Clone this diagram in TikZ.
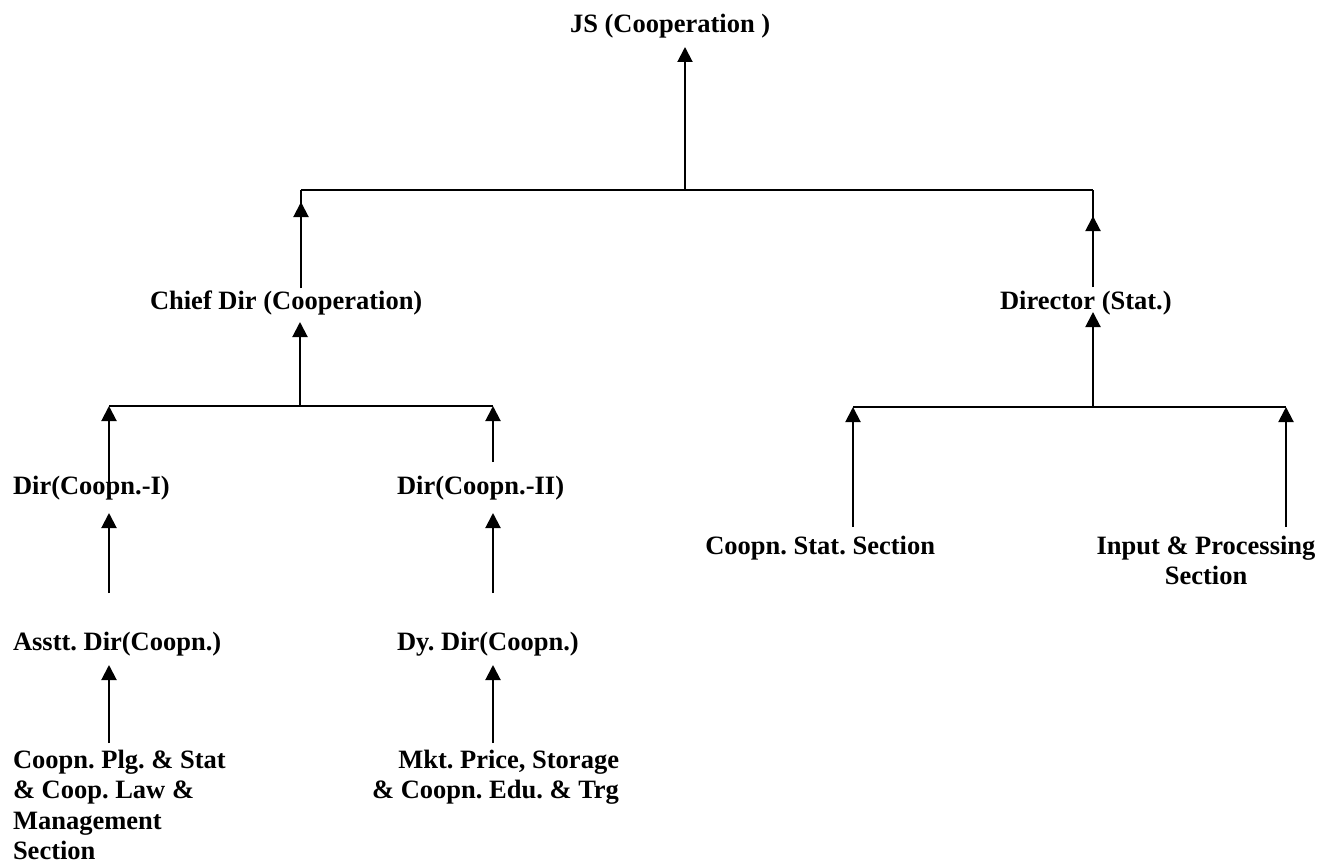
\documentclass[tikz,border=0pt]{standalone}
\usepackage{fontspec}
\setmainfont{Liberation Serif}
\usetikzlibrary{arrows.meta}
\frenchspacing
\begin{document}
\begin{tikzpicture}[x=1pt,y=-1pt,
  lbl/.style={inner sep=0pt, outer sep=0pt, anchor=base west, font=\fontsize{26.5}{30.5}\selectfont\bfseries},
  ln/.style={line width=2pt},
  arr/.style={line width=2pt, -{Triangle[length=15pt,width=15pt]}}]
\useasboundingbox (0,0) rectangle (1325,867);
% labels
\node[lbl] (js) at (570,33) {JS (Cooperation )};
\node[lbl] (cd) at (150,309) {Chief Dir (Cooperation)};
\node[lbl] (ds) at (1000,309) {Director (Stat.)};
\node[lbl] (d1) at (13,494) {Dir(Coopn.-I)};
\node[lbl] (d2) at (397,494) {Dir(Coopn.-II)};
\node[lbl] (ad) at (13,650) {Asstt. Dir(Coopn.)};
\node[lbl] (dy) at (397,650) {Dy. Dir(Coopn.)};
\node[lbl, align=left] (s1) at (13,859.5) {Coopn. Plg. \& Stat\\\& Coop. Law \&\\Management\\Section};
\node[lbl, align=right, anchor=base east] (s2) at (619,798.5) {Mkt. Price, Storage\\\& Coopn. Edu. \& Trg};
\node[lbl, anchor=base east] (cs) at (935,554) {Coopn. Stat. Section};
\node[lbl, align=center, anchor=base] (ip) at (1206,584.5) {Input \& Processing\\Section};
% junction coordinates
\coordinate (h1L) at (301,190);
\coordinate (h1M) at (685,190);
\coordinate (h1R) at (1093,190);
\coordinate (h2L) at (109,406);
\coordinate (h2M) at (300,406);
\coordinate (h2R) at (493,406);
\coordinate (h3L) at (853,407);
\coordinate (h3M) at (1093,407);
\coordinate (h3R) at (1286,407);
% connector end points
\coordinate (jsIn) at (685,47);
\coordinate (cdOut) at (301,288);
\coordinate (cdTip) at (301,202);
\coordinate (cdIn) at (300,322);
\coordinate (dsOut) at (1093,287);
\coordinate (dsTip) at (1093,216);
\coordinate (dsIn) at (1093,312);
\coordinate (d1Out) at (109,490);
\coordinate (d2Out) at (493,462);
\coordinate (d1In) at (109,513);
\coordinate (d2In) at (493,513);
\coordinate (adOut) at (109,593);
\coordinate (dyOut) at (493,593);
\coordinate (adIn) at (109,665);
\coordinate (dyIn) at (493,665);
\coordinate (s1Out) at (109,743);
\coordinate (s2Out) at (493,743);
\coordinate (csOut) at (853,527);
\coordinate (ipOut) at (1286,527);
% horizontal bars
\draw[ln] (h1L) -- (h1R);
\draw[ln] (h2L) -- (h2R);
\draw[ln] (h3L) -- (h3R);
% connectors
\draw[arr] (h1M) -- (jsIn);
\draw[ln] (cdOut) -- (h1L);
\draw[arr] (cdOut) -- (cdTip);
\draw[ln] (dsOut) -- (h1R);
\draw[arr] (dsOut) -- (dsTip);
\draw[arr] (h2M) -- (cdIn);
\draw[arr] (h3M) -- (dsIn);
\draw[arr] (d1Out) -- (h2L);
\draw[arr] (d2Out) -- (h2R);
\draw[arr] (adOut) -- (d1In);
\draw[arr] (dyOut) -- (d2In);
\draw[arr] (s1Out) -- (adIn);
\draw[arr] (s2Out) -- (dyIn);
\draw[arr] (csOut) -- (h3L);
\draw[arr] (ipOut) -- (h3R);
\end{tikzpicture}
\end{document}
